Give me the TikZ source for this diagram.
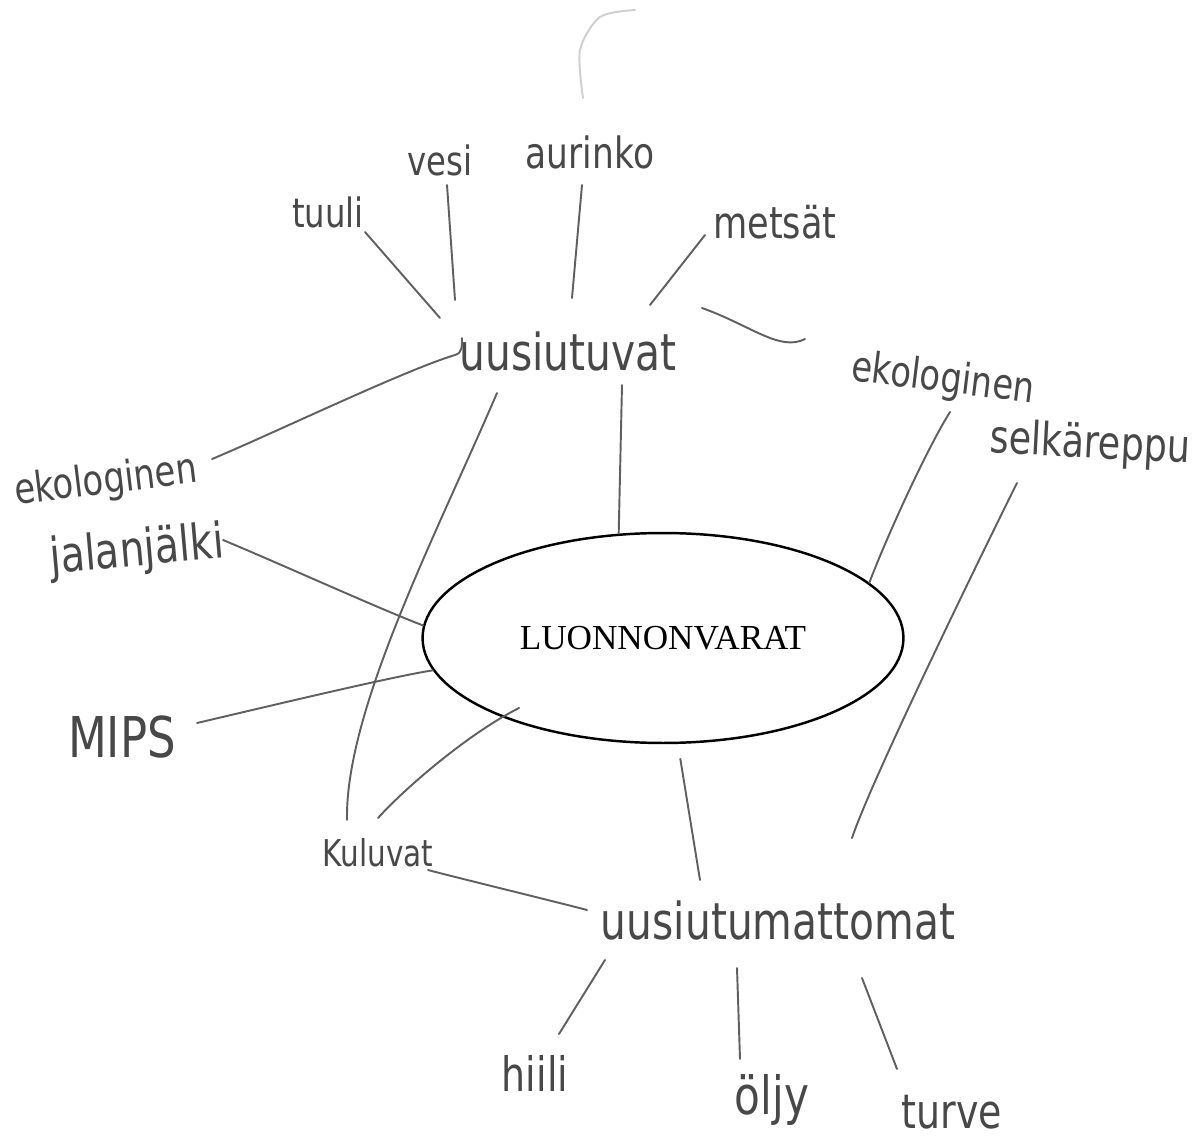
\documentclass[tikz,border=0pt]{standalone}
\usepackage{fontspec}
\usepackage{xcolor}
\setmainfont{Liberation Serif}
\newfontfamily\handfont{DejaVu Sans}[FakeStretch=0.8]
\usetikzlibrary{shapes.geometric,positioning,calc}
\definecolor{pencil}{RGB}{96,96,96}
\definecolor{lead}{RGB}{72,72,72}
\newcommand{\hw}[1]{\handfont\fontsize{#1}{#1}\selectfont}
\tikzset{
  word/.style={text=lead, inner sep=0pt},
  pencil/.style={draw=pencil, line width=1.1pt, line cap=round},
}

\begin{document}
\begin{tikzpicture}[x=0.02cm,y=0.02cm]
  \useasboundingbox (0,0) rectangle (1194,-1142);

  % Centre
  \node[ellipse,draw,line width=1.4pt,minimum width=9.62cm,minimum height=4.2cm,
        inner sep=0pt,font=\fontsize{20}{24}\selectfont] (luonnonvarat) at (663,-638) {LUONNONVARAT};

  % Words
  \node[word,font=\hw{23}] (tuuli) at (328,-212) {tuuli};
  \node[word,font=\hw{23}] (vesi) at (440,-160) {vesi};
  \node[word,font=\hw{24.5}] (aurinko) at (590,-152) {aurinko};
  \node[word,font=\hw{25}] (metsat) at (775,-222) {metsät};
  \node[word,font=\hw{29}] (uusiutuvat) at (568,-352) {uusiutuvat};
  \node[word,font=\hw{24},rotate=-7] (ekoR) at (943,-380) {ekologinen};
  \node[word,font=\hw{26},rotate=-3] (selka) at (1090,-445) {selkäreppu};
  \node[word,font=\hw{24},rotate=7] (ekoL) at (106,-482) {ekologinen};
  \node[word,font=\hw{28},rotate=5] (jalan) at (137,-552) {jalanjälki};
  \node[word,font=\hw{32}] (mips) at (122,-737) {MIPS};
  \node[word,font=\hw{21}] (kuluvat) at (378,-853) {Kuluvat};
  \node[word,font=\hw{29}] (uusiutumattomat) at (778,-920) {uusiutumattomat};
  \node[word,font=\hw{27}] (hiili) at (535,-1073) {hiili};
  \node[word,font=\hw{30}] (oljy) at (772,-1100) {öljy};
  \node[word,font=\hw{27}] (turve) at (952,-1112) {turve};

  % Upper branches
  \draw[pencil] ($(tuuli)+(37,-20)$) -- ($(uusiutuvat)+(-128,34)$);
  \draw[pencil] ($(vesi)+(7,-25)$) -- ($(uusiutuvat)+(-113,52)$);
  \draw[pencil] ($(aurinko)+(-8,-33)$) -- ($(uusiutuvat)+(4,54)$);
  \draw[pencil] ($(metsat)+(-70,-13)$) -- ($(uusiutuvat)+(82,47)$);
  \draw[pencil] (702,-308) .. controls (750,-325) and (780,-352) .. (805,-339);
  \draw[pencil,draw=pencil!30] plot[smooth] coordinates {(583,-98) (580,-50) (600,-17) (635,-10)};

  \draw[pencil] ($(ekoL)+(106,23)$) .. controls +(60,25) and +(-50,-15) .. ($(uusiutuvat)+(-113,-3)$)
    .. controls +(8,2) and +(0,-6) .. ($(uusiutuvat)+(-106,14)$);
  \draw[pencil] ($(uusiutuvat)+(54,-33)$) -- (luonnonvarat.113);
  \draw[pencil] ($(uusiutuvat)+(-71,-41)$) .. controls +(-60,-140) and +(-2,110) .. ($(kuluvat)+(-31,33)$);

  % Left branches
  \draw[pencil] ($(jalan)+(86,12)$) .. controls +(60,-25) and +(-40,15) .. (luonnonvarat.177);
  \draw[pencil] ($(mips)+(75,14)$) .. controls +(60,14) and +(-40,-6) .. (luonnonvarat.188);
  \draw[pencil,shorten >=-0.4cm] ($(kuluvat)+(0,35)$) .. controls +(30,33) and +(-30,-15) .. (luonnonvarat.206);
  \draw[pencil] ($(kuluvat)+(50,-17)$) .. controls +(30,-8) and +(-30,8) .. ($(uusiutumattomat)+(-191,10)$);

  % Right branches
  \draw[pencil] ($(ekoR)+(7,-32)$) .. controls +(-25,-40) and +(15,40) .. (luonnonvarat.15);
  \draw[pencil] ($(selka)+(-73,-38)$) .. controls +(-25,-50) and +(20,60) .. ($(uusiutumattomat)+(74,82)$);
  \draw[pencil,shorten <=0.3cm] (luonnonvarat.-82) -- ($(uusiutumattomat)+(-78,40)$);

  % Lower branches
  \draw[pencil] ($(uusiutumattomat)+(-173,-40)$) -- ($(hiili)+(24,39)$);
  \draw[pencil] ($(uusiutumattomat)+(-41,-48)$) -- ($(oljy)+(-32,41)$);
  \draw[pencil] ($(uusiutumattomat)+(84,-58)$) -- ($(turve)+(-55,43)$);
\end{tikzpicture}
\end{document}
